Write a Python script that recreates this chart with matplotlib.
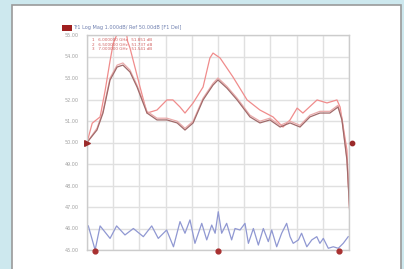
import matplotlib
matplotlib.use("Agg")
import matplotlib.pyplot as plt
from matplotlib.patches import Rectangle

# ---- data (x in divisions 0..10, y in dB) ----
y_ticks = [45.0, 46.0, 47.0, 48.0, 49.0, 50.0, 51.0, 52.0, 53.0, 54.0, 55.0]
y_tick_labels = ["45.00", "46.00", "47.00", "48.00", "49.00", "50.00",
                 "51.00", "52.00", "53.00", "54.00", "55.00"]

upper_x = [0, 0.2, 0.5, 0.69, 0.88, 1.0, 1.3, 1.45, 1.55, 1.64, 2.02, 2.29, 2.67, 3.05,
           3.28, 3.55, 3.74, 4.05, 4.43, 4.69, 4.81, 5.08, 5.57, 6.11, 6.60, 7.10,
           7.48, 7.75, 8.02, 8.24, 8.78, 9.16, 9.54, 9.66, 9.92, 10.04]
upper_y = [50.0, 50.9, 51.19, 52.4, 53.8, 54.6, 55.5, 55.6, 54.7, 54.4, 52.6, 51.37,
           51.51, 51.98, 51.98, 51.65, 51.37, 51.84, 52.58, 53.93, 54.16, 53.93,
           53.05, 51.98, 51.51, 51.19, 50.72, 51.05, 51.60, 51.37, 51.98, 51.84,
           51.98, 51.65, 49.65, 46.4]

dark_x = [0, 0.38, 0.61, 0.88, 1.15, 1.37, 1.64, 1.91, 2.29, 2.67, 3.05, 3.44, 3.74,
          4.05, 4.43, 4.81, 5.0, 5.34, 5.73, 6.22, 6.60, 6.98, 7.37, 7.75, 8.13,
          8.51, 8.89, 9.27, 9.58, 9.73, 9.92, 10.04]
dark_y = [50.0, 50.58, 51.37, 52.91, 53.51, 53.60, 53.28, 52.58, 51.37, 51.05, 51.05,
          50.91, 50.58, 50.91, 51.98, 52.67, 52.91, 52.53, 51.98, 51.19, 50.91,
          51.05, 50.72, 50.91, 50.72, 51.19, 51.37, 51.37, 51.65, 51.05, 49.19, 46.5]

mid_y = [50.0, 50.66, 51.45, 53.0, 53.6, 53.7, 53.37, 52.66, 51.45, 51.13, 51.13,
         50.99, 50.66, 50.99, 52.06, 52.75, 53.0, 52.61, 52.06, 51.27, 50.99,
         51.13, 50.80, 50.99, 50.80, 51.27, 51.45, 51.45, 51.73, 51.13, 49.27, 46.6]

blue_x = [0.05, 0.31, 0.50, 0.88, 1.13, 1.45, 1.77, 2.15, 2.47, 2.72, 3.04, 3.30, 3.55,
          3.74, 3.93, 4.12, 4.38, 4.57, 4.76, 4.89, 5.01, 5.14, 5.33, 5.52, 5.65,
          5.84, 6.03, 6.16, 6.35, 6.54, 6.73, 6.92, 7.05, 7.24, 7.43, 7.62, 7.75,
          7.87, 8.07, 8.19, 8.39, 8.58, 8.77, 8.89, 9.02, 9.21, 9.40, 9.59, 9.78, 9.97]
blue_y = [46.12, 45.0, 46.12, 45.54, 46.12, 45.70, 46.0, 45.62, 46.12, 45.54, 45.93,
          45.15, 46.32, 45.78, 46.4, 45.31, 46.24, 45.47, 46.16, 45.78, 46.78, 45.78,
          46.24, 45.47, 46.0, 45.93, 46.24, 45.31, 46.0, 45.23, 46.0, 45.39, 45.93,
          45.15, 45.78, 46.24, 45.62, 45.31, 45.47, 45.78, 45.15, 45.47, 45.62,
          45.31, 45.54, 45.08, 45.15, 45.08, 45.31, 45.62]

title_text = "Tr1 Log Mag 1.000dB/ Ref 50.00dB [F1 Del]"
marker_lines = ["1   6.000000 GHz   51.851 dB",
                "2   6.500000 GHz   51.737 dB",
                "3   7.000000 GHz   51.541 dB"]

W, H = 404, 269
fig = plt.figure(figsize=(W / 100, H / 100), dpi=100)
fig.patch.set_facecolor("#cde8ee")

# white panel (behind everything)
fig.patches.append(Rectangle((12 / W, -0.05), 389 / W, (H - 5) / H + 0.05,
                             transform=fig.transFigure, facecolor="white",
                             edgecolor="#9a9a9a", linewidth=1.2, zorder=-10))

ax = fig.add_axes([87 / W, (H - 250) / H, 262 / W, 215 / H])
ax.set_facecolor("white")
ax.set_xlim(0, 10)
ax.set_ylim(45, 55)
ax.set_xticks(range(11))
ax.set_yticks(y_ticks)
ax.set_yticklabels(y_tick_labels, fontsize=3.5, color="#a0a0a0")
ax.set_xticklabels([])
ax.tick_params(length=0, pad=6)
ax.grid(True, color="#e0e0e0", linewidth=1.0)
ax.set_axisbelow(True)
for s in ax.spines.values():
    s.set_color("#cccccc")
    s.set_linewidth(1.0)

ax.plot(upper_x, upper_y, color="#f08c8c", lw=0.9)
ax.plot(dark_x, mid_y, color="#eaaaaa", lw=0.9)
ax.plot(dark_x, dark_y, color="#a06a6a", lw=0.9)
ax.plot(blue_x, blue_y, color="#9098d2", lw=0.9, clip_on=False)

# reference / marker indicators
ax.scatter([0], [50.0], marker=">", s=16, color="#9b2a2a", clip_on=False, zorder=5)
ax.scatter([10.12], [50.0], marker="o", s=10, color="#9b2a2a", clip_on=False, zorder=5)
ax.scatter([0.31, 5.0, 9.6], [44.95, 44.95, 44.95], marker="o", s=12,
           color="#a83030", clip_on=False, zorder=5)

# title bar
fig.patches.append(Rectangle((62 / W, (H - 31) / H), 10 / W, 6 / H,
                             transform=fig.transFigure, facecolor="#a02020"))
fig.text(73 / W, (H - 28) / H, title_text, fontsize=3.6, color="#7080b0",
         va="center", ha="left")
for i, line in enumerate(marker_lines):
    fig.text(92 / W, (H - 40 - i * 4.5) / H, line, fontsize=3.0,
             color="#d06060", va="center", ha="left")

fig.savefig("out.png", dpi=100, facecolor=fig.get_facecolor())
